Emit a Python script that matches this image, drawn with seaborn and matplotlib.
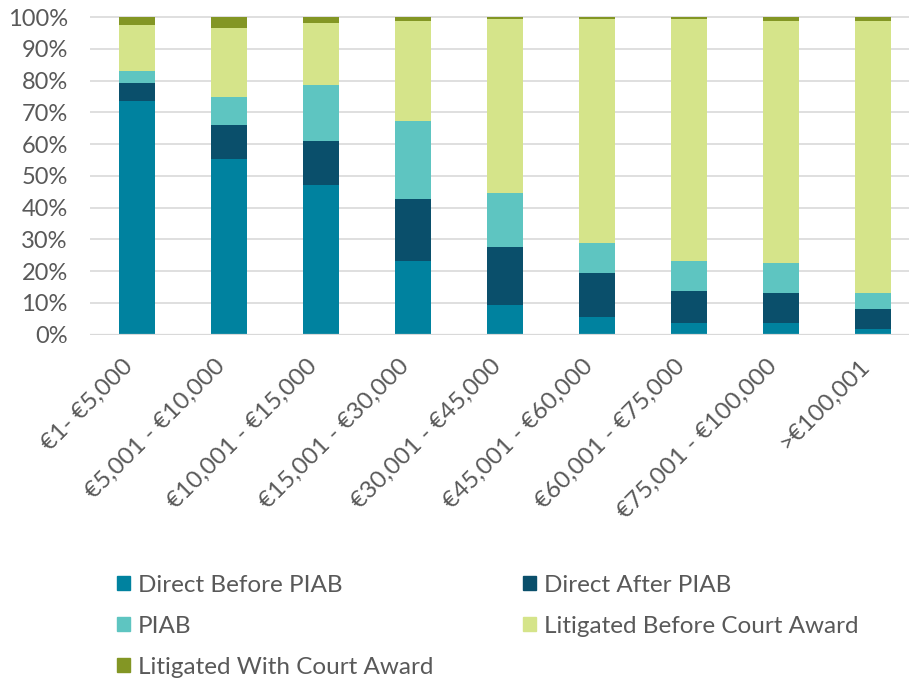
import pandas as pd
import matplotlib.pyplot as plt
import matplotlib.patches as mpatches
import seaborn as sns

# award bands
categories = ["€1- €5,000", "€5,001 - €10,000", "€10,001 - €15,000", "€15,001 - €30,000",
              "€30,001 - €45,000", "€45,001 - €60,000", "€60,001 - €75,000",
              "€75,001 - €100,000", ">€100,001"]

# share of claims (%) per settlement channel
direct_before = [73.6, 55.3, 47.1, 23.2, 9.4, 5.6, 3.7, 3.7, 1.8]
direct_after = [5.6, 10.7, 13.9, 19.5, 18.2, 13.8, 10.0, 9.4, 6.3]
piab = [3.8, 8.8, 17.7, 24.6, 17.0, 9.5, 9.5, 9.5, 5.0]
litigated_before = [14.5, 21.8, 19.4, 31.4, 54.8, 70.5, 76.2, 76.1, 85.6]
litigated_with = [2.5, 3.4, 1.9, 1.3, 0.6, 0.6, 0.6, 1.3, 1.3]

series = ["Direct Before PIAB", "Direct After PIAB", "PIAB",
          "Litigated Before Court Award", "Litigated With Court Award"]
colors = ["#00829f", "#0a4f6b", "#5ec5c1", "#d5e48a", "#839624"]

df = pd.DataFrame({
    "band": categories,
    series[0]: direct_before,
    series[1]: direct_after,
    series[2]: piab,
    series[3]: litigated_before,
    series[4]: litigated_with,
})

# cumulative totals so each layer can be drawn on top of the previous one
cum = df[series].cumsum(axis=1)
cum["band"] = df["band"]

sns.set_style("white")
plt.rcParams["font.family"] = ["Lato", "DejaVu Sans"]
text_grey = "#595959"

fig = plt.figure(figsize=(9.09, 6.79), dpi=100)
ax = fig.add_axes([0.099, 0.507, 0.901, 0.4773])

# draw from the tallest cumulative layer down
for name, col in reversed(list(zip(series, colors))):
    sns.barplot(data=cum, x="band", y=name, color=col, width=0.39,
                saturation=1, linewidth=0, edgecolor=col, ax=ax, zorder=3)

ax.set_ylim(0, 102)
ax.set_xlim(-0.511, 8.39)
ax.set_yticks(range(0, 101, 10))
ax.set_yticklabels([f"{v}%" for v in range(0, 101, 10)])
ax.yaxis.grid(True, color="#d9d9d9", linewidth=1.2, zorder=0)
ax.set_axisbelow(True)
ax.set_xlabel("")
ax.set_ylabel("")
for s in ax.spines.values():
    s.set_visible(False)
ax.axhline(0, color="#d9d9d9", linewidth=1.6, zorder=4)

ax.tick_params(axis="y", length=0, pad=16, labelsize=17, labelcolor=text_grey)
ax.tick_params(axis="x", length=0, pad=15, labelsize=17.5, labelcolor=text_grey)
for lab in ax.get_xticklabels():
    lab.set_rotation(45)
    lab.set_ha("right")

# legend: two columns, filled column-wise
order = [0, 2, 4, 1, 3]
handles = [mpatches.Patch(color=colors[i], label=series[i]) for i in order]
fig.legend(handles=handles, ncol=2, loc="upper left",
           bbox_to_anchor=(0.118, 0.168), frameon=False,
           fontsize=17.5, labelcolor=text_grey,
           handlelength=0.55, handleheight=0.55, handletextpad=0.3,
           columnspacing=3.7, labelspacing=0.82, borderaxespad=0)

fig.savefig("out.png", dpi=100)
